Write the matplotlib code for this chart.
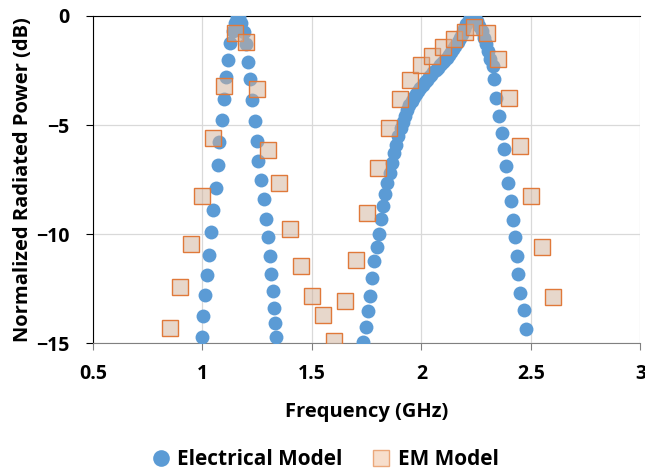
import matplotlib
matplotlib.use("Agg")
import matplotlib.pyplot as plt
from matplotlib.lines import Line2D

plt.rcParams["font.family"] = ["Open Sans", "DejaVu Sans"]
plt.rcParams["font.weight"] = "bold"

# Electrical model (circuit simulation), GHz / dB
elec_freq = [
    0.997, 1.003, 1.010, 1.020, 1.030, 1.040, 1.050, 1.060, 1.069, 1.078,
    1.088, 1.097, 1.107, 1.118, 1.128, 1.138, 1.148, 1.158, 1.168, 1.178,
    1.188, 1.198, 1.208, 1.218, 1.227, 1.238, 1.247, 1.255, 1.267, 1.280,
    1.289, 1.298, 1.307, 1.314, 1.321, 1.328, 1.333, 1.338,
    1.735, 1.745, 1.755, 1.765, 1.775, 1.785, 1.795, 1.805, 1.815, 1.825,
    1.835, 1.845, 1.855, 1.865, 1.875, 1.885, 1.895, 1.905, 1.915, 1.925,
    1.935, 1.945, 1.955, 1.965, 1.975, 1.985, 1.995, 2.005, 2.015, 2.025,
    2.035, 2.045, 2.055, 2.065, 2.075, 2.085, 2.095, 2.105, 2.115, 2.125,
    2.135, 2.145, 2.155, 2.165, 2.175, 2.185, 2.195, 2.205, 2.215, 2.225,
    2.235, 2.245, 2.255, 2.265, 2.275, 2.285, 2.295, 2.305, 2.315, 2.325,
    2.333, 2.342, 2.355, 2.367, 2.378, 2.387, 2.396, 2.408, 2.418, 2.425,
    2.435, 2.443, 2.451, 2.466, 2.478,
]
elec_db = [
    -14.7, -13.75, -12.8, -11.9, -10.95, -9.9, -8.9, -7.9, -6.85, -5.8,
    -4.75, -3.8, -2.8, -2.0, -1.25, -0.7, -0.3, -0.05, -0.05, -0.3,
    -0.75, -1.3, -2.1, -2.9, -3.85, -4.8, -5.75, -6.65, -7.5, -8.4,
    -9.3, -10.15, -11.0, -11.85, -12.6, -13.4, -14.1, -14.7,
    -14.95, -14.25, -13.55, -12.85, -12.0, -11.25, -10.6, -10.0, -9.3, -8.7,
    -8.15, -7.65, -7.2, -6.75, -6.3, -5.9, -5.5, -5.15, -4.85, -4.57,
    -4.32, -4.1, -3.9, -3.73, -3.57, -3.42, -3.28, -3.15, -3.03, -2.92,
    -2.81, -2.7, -2.59, -2.48, -2.38, -2.27, -2.16, -2.05, -1.93, -1.8,
    -1.66, -1.51, -1.36, -1.2, -1.02, -0.82, -0.6, -0.38, -0.2, -0.07,
    0.0, -0.1, -0.25, -0.45, -0.7, -1.0, -1.3, -1.6, -1.95, -2.3,
    -2.9, -3.75, -4.6, -5.35, -6.1, -6.9, -7.65, -8.5, -9.35, -10.15,
    -11.0, -11.85, -12.7, -13.5, -14.35,
]

# EM model (full-wave simulation)
em_freq = [
    0.85, 0.90, 0.95, 1.00, 1.05, 1.10, 1.15, 1.20, 1.25, 1.30,
    1.35, 1.40, 1.45, 1.50, 1.55, 1.60, 1.65, 1.70, 1.75, 1.80,
    1.85, 1.90, 1.95, 2.00, 2.05, 2.10, 2.15, 2.20, 2.24, 2.30,
    2.35, 2.40, 2.45, 2.50, 2.55, 2.60,
]
em_db = [
    -14.3, -12.45, -10.45, -8.25, -5.6, -3.2, -0.8, -1.2, -3.35, -6.15,
    -7.65, -9.75, -11.45, -12.85, -13.7, -14.9, -13.05, -11.2, -9.05, -6.95,
    -5.15, -3.8, -2.95, -2.25, -1.85, -1.4, -1.05, -0.72, -0.5, -0.8,
    -1.95, -3.75, -5.95, -8.25, -10.6, -12.9,
]

x_ticks = [0.5, 1, 1.5, 2, 2.5, 3]
x_labels = ["0.5", "1", "1.5", "2", "2.5", "3"]
y_ticks = [-15, -10, -5, 0]

blue = "#5B9BD5"
orange_edge = "#E0793A"
square_fill = (0.82, 0.69, 0.60, 0.5)

fig = plt.figure(figsize=(6.45, 4.70), dpi=100)
ax = fig.add_axes([0.144, 0.270, 0.849, 0.696])

ax.plot(elec_freq, elec_db, linestyle="none", marker="o", markersize=10,
        color=blue, markeredgewidth=0, zorder=3)
ax.plot(em_freq, em_db, linestyle="none", marker="s", markersize=11.5,
        markerfacecolor=square_fill, markeredgecolor=orange_edge,
        markeredgewidth=1.0, zorder=4)

ax.set_xlim(0.5, 3)
ax.set_ylim(-15, 0)
ax.set_xticks(x_ticks)
ax.set_xticklabels(x_labels)
ax.set_yticks(y_ticks)
ax.grid(True, color="#D9D9D9", linewidth=0.9)
ax.set_axisbelow(True)

ax.spines["right"].set_visible(False)
ax.spines["top"].set_color("black")
ax.spines["left"].set_color("black")
ax.spines["bottom"].set_color("#808080")
ax.tick_params(axis="y", direction="out", length=5, color="black",
               labelsize=14, pad=12)
ax.tick_params(axis="x", direction="out", length=5, color="#808080",
               labelsize=14, pad=10)

ax.set_xlabel("Frequency (GHz)", fontsize=14.5, fontweight="bold", labelpad=13)
ax.set_ylabel("Normalized Radiated Power (dB)", fontsize=14.5,
              fontweight="bold", labelpad=2)

handles = [
    Line2D([], [], linestyle="none", marker="o", markersize=12, color=blue,
           markeredgewidth=0, label="Electrical Model"),
    Line2D([], [], linestyle="none", marker="s", markersize=12,
           markerfacecolor=(0.97, 0.87, 0.80), markeredgecolor="#EBA77A",
           markeredgewidth=1.0, label="EM Model"),
]
fig.legend(handles=handles, loc="center", bbox_to_anchor=(0.495, 0.022),
           ncol=2, frameon=False, fontsize=15, handletextpad=-0.2,
           columnspacing=0.85, borderaxespad=0)

fig.savefig("out.png", dpi=100)
plt.close(fig)
